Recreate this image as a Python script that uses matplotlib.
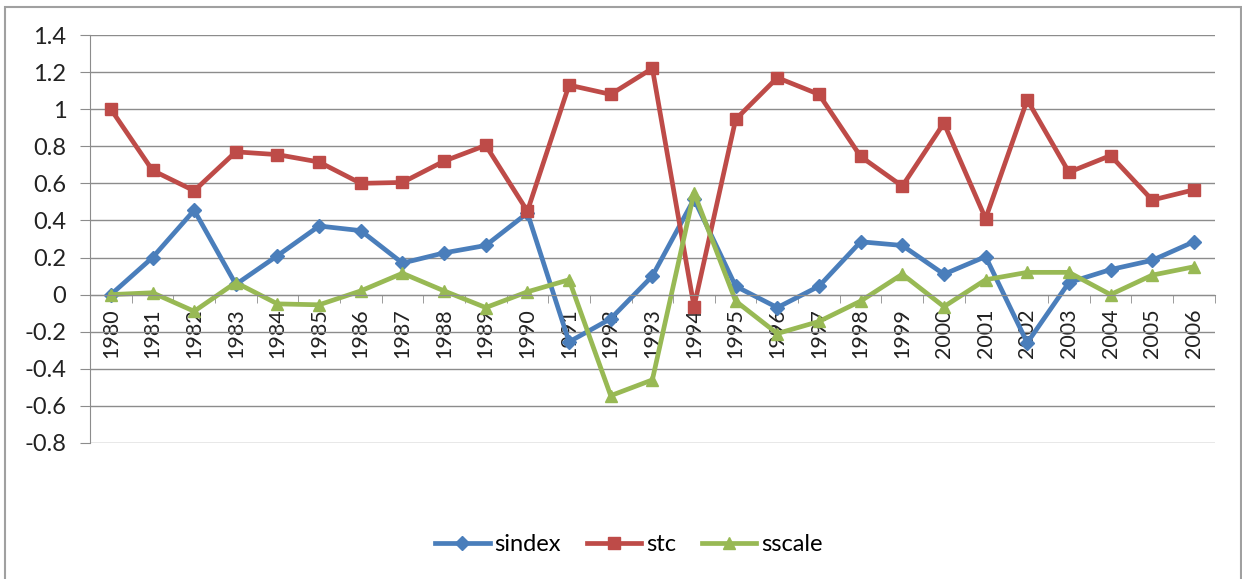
import matplotlib.pyplot as plt
from matplotlib.patches import Rectangle

years = [str(y) for y in range(1980, 2007)]

sindex = [0.0, 0.20, 0.455, 0.055, 0.21, 0.37, 0.345, 0.17, 0.225, 0.265,
          0.44, -0.255, -0.13, 0.10, 0.515, 0.045, -0.07, 0.045, 0.285, 0.265,
          0.11, 0.205, -0.26, 0.065, 0.135, 0.185, 0.285]
stc = [1.0, 0.67, 0.56, 0.77, 0.755, 0.715, 0.60, 0.605, 0.72, 0.805,
       0.45, 1.13, 1.08, 1.22, -0.065, 0.945, 1.17, 1.08, 0.745, 0.585,
       0.925, 0.41, 1.05, 0.66, 0.75, 0.51, 0.565]
sscale = [0.0, 0.01, -0.09, 0.065, -0.05, -0.055, 0.02, 0.115, 0.02, -0.07,
          0.015, 0.08, -0.545, -0.46, 0.55, -0.035, -0.21, -0.145, -0.035, 0.11,
          -0.065, 0.08, 0.12, 0.12, 0.0, 0.105, 0.15]

plt.rcParams['font.family'] = ['Lato', 'DejaVu Sans']

fig = plt.figure(figsize=(12.42, 5.79), dpi=100)
ax = fig.add_axes([0.0725, 0.235, 0.9055, 0.7045])

# axis crosses at zero, set before ticks (set_position resets them)
ax.spines['bottom'].set_position(('data', 0))
ax.spines['bottom'].set_color('#8C8C8C')
ax.spines['left'].set_color('#8C8C8C')
ax.spines['top'].set_visible(False)
ax.spines['right'].set_visible(False)

x = list(range(len(years)))
ax.plot(x, sindex, color='#4A7EBB', lw=3.4, marker='D', markersize=7, label='sindex')
ax.plot(x, stc, color='#BE4B48', lw=3.4, marker='s', markersize=8, label='stc')
ax.plot(x, sscale, color='#98B954', lw=3.4, marker='^', markersize=9, label='sscale')

ax.set_xlim(-0.5, len(years) - 0.5)
ax.set_ylim(-0.8, 1.4)
ax.set_yticks([-0.8, -0.6, -0.4, -0.2, 0, 0.2, 0.4, 0.6, 0.8, 1, 1.2, 1.4])
ax.set_yticklabels(['-0.8', '-0.6', '-0.4', '-0.2', '0', '0.2', '0.4', '0.6',
                    '0.8', '1', '1.2', '1.4'], fontsize=17, color='#222222')
ax.yaxis.grid(True, color='#8C8C8C', lw=1)
ax.set_axisbelow(True)
ax.tick_params(axis='y', length=7, color='#8C8C8C', pad=10)

ax.set_xticks(x)
ax.set_xticklabels(years, rotation=90, fontsize=15.5, color='#222222')
ax.set_xticks([i + 0.5 for i in x[:-1]] + [-0.5, len(years) - 0.5], minor=True)
ax.tick_params(axis='x', which='major', length=0, pad=10)
ax.tick_params(axis='x', which='minor', length=6, color='#8C8C8C')

ax.legend(loc='center', bbox_to_anchor=(0.479, -0.25), ncol=3, frameon=False,
          fontsize=17, handlelength=2.3, columnspacing=1.1, handletextpad=0.2)

fig.patches.append(Rectangle((5 / 1242, -0.01), 1 - 6 / 1242, 1 - 7 / 579 + 0.01,
                             transform=fig.transFigure, fill=False,
                             edgecolor='#A0A0A0', lw=1.5))

fig.savefig('out.png', dpi=100)
